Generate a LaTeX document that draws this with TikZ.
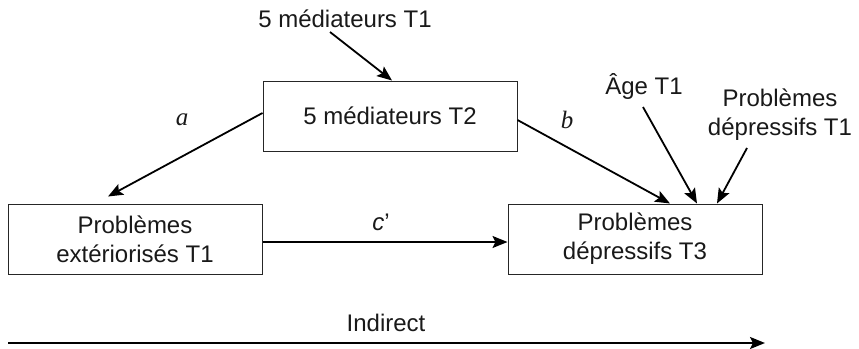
\documentclass[tikz,border=0pt]{standalone}
\usepackage{fontspec}
\setmainfont{Liberation Sans}
\newfontfamily\serifit{Liberation Serif}
\usetikzlibrary{arrows.meta,calc}
\begin{document}
\begin{tikzpicture}[x=1pt,y=-1pt,
  every node/.style={font=\fontsize{24}{29}\selectfont, text=black!90, inner sep=0pt},
  varbox/.style={draw=black!85, line width=1pt, minimum width=254pt, minimum height=70pt, align=center},
  lbl/.style={align=center},
  arr/.style={line width=1.8pt, -{Stealth[length=15pt,width=12pt,inset=3pt]}},
  pathlbl/.style={font=\fontsize{25}{28}\selectfont\serifit\itshape}
]
\useasboundingbox (0,0) rectangle (859,348);
\node[lbl] (m1) at (345,19) {5 médiateurs T1};
\node[varbox] (m2) at (390,116) {5 médiateurs T2};
\node[varbox] (x) at (135,239) {Problèmes\\extériorisés T1};
\node[varbox] (y) at (635,239) {Problèmes\\dépressifs T3};
\node[lbl] (age) at (644,87) {Âge T1};
\node[lbl] (pd1) at (780,115) {Problèmes\\dépressifs T1};
\node[pathlbl] (la) at (182,120) {a};
\node[pathlbl] (lb) at (567,120) {b};
\node[lbl] (lc) at (381,222) {\textit{c}’};
\node[lbl] (ind) at (386,323) {Indirect};
\coordinate (i1) at (8,343);
\coordinate (i2) at (765,343);

\draw[arr] ($(m1)+(-15,13)$) -- ($(m2.north)+(2,0)$);
\draw[arr] ($(m2.west)+(0,-3)$) -- ($(x.north)+(-27,-7)$);
\draw[arr] ($(m2.east)+(0,4)$) -- ($(y.north)+(35,0)$);
\draw[arr] ($(age)+(-1,20)$) -- ($(y.north)+(62,0)$);
\draw[arr] ($(pd1)+(-33,33)$) -- ($(y.north)+(82,0)$);
\draw[arr] ($(x.east)+(0,3)$) -- ($(y.west)+(0,3)$);
\draw[arr, line width=2.2pt] (i1) -- (i2);
\end{tikzpicture}
\end{document}
